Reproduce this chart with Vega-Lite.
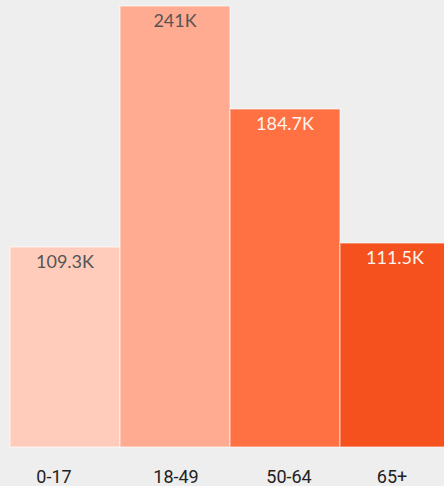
{
  "$schema": "https://vega.github.io/schema/vega-lite/v6.json",
  "autosize": "none",
  "width": 434,
  "height": 441,
  "padding": {"left": 10, "top": 6, "right": 0, "bottom": 39},
  "background": "#eeeeee",
  "config": {"view": {"stroke": null}},
  "data": {
    "values": [
      {"age": "0-17", "value": 109.3, "label": "109.3K"},
      {"age": "18-49", "value": 241, "label": "241K"},
      {"age": "50-64", "value": 184.7, "label": "184.7K"},
      {"age": "65+", "value": 111.5, "label": "111.5K"}
    ]
  },
  "encoding": {
    "x": {
      "field": "age",
      "type": "nominal",
      "sort": null,
      "scale": {"paddingInner": 0, "paddingOuter": 0, "range": [0, 440]},
      "axis": {
        "title": null,
        "domain": false,
        "ticks": false,
        "tickSize": 0,
        "labelAngle": 0,
        "labelFont": "Roboto",
        "labelFontSize": 18,
        "labelColor": "#222222",
        "labelBaseline": "alphabetic",
        "labelPadding": 35,
        "labelOffset": {"expr": "datum.value == '0-17' ? -11 : datum.value == '50-64' ? 4 : datum.value == '65+' ? -3 : 1"}
      }
    },
    "y": {
      "field": "value",
      "type": "quantitative",
      "scale": {"domain": [0, 241], "nice": false},
      "axis": null
    }
  },
  "layer": [
    {
      "mark": {"type": "bar", "stroke": "#ffffff", "strokeOpacity": 0.45, "strokeWidth": 1.5},
      "encoding": {
        "color": {
          "field": "age",
          "type": "nominal",
          "sort": null,
          "scale": {"range": ["#ffccbc", "#ffab91", "#ff7043", "#f4511e"]},
          "legend": null
        }
      }
    },
    {
      "mark": {"type": "text", "font": "Lato", "fontSize": 18, "baseline": "alphabetic", "dy": 21},
      "encoding": {
        "text": {"field": "label"},
        "color": {
          "field": "age",
          "type": "nominal",
          "sort": null,
          "scale": {"range": ["#555555", "#555555", "#fff5f0", "#fff5f0"]},
          "legend": null
        }
      }
    }
  ],
  "resolve": {"scale": {"color": "independent"}}
}
